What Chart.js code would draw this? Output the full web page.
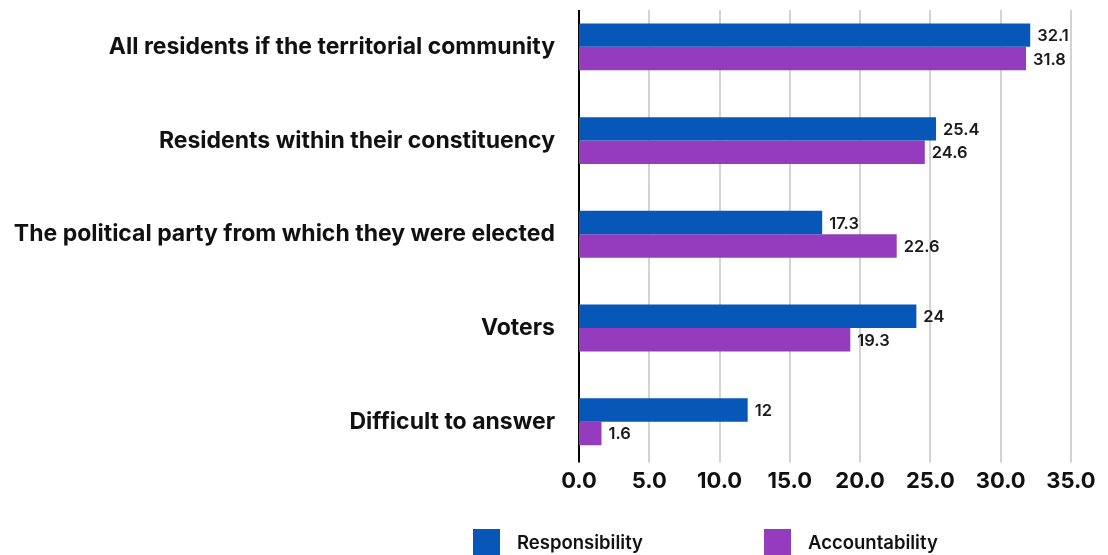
<!DOCTYPE html>
<html>
<head>
<meta charset="utf-8">
<script src="https://cdn.jsdelivr.net/npm/chart.js@4.4.1/dist/chart.umd.min.js"></script>
<style>
  html, body { margin: 0; padding: 0; background: #fff; }
  #wrap { width: 1108px; height: 555px; position: relative; }
</style>
</head>
<body>
<div id="wrap"><canvas id="chart"></canvas></div>
<script>
// Datos del gráfico
const categories = [
    'All residents if the territorial community',
    'Residents within their constituency',
    'The political party from which they were elected',
    'Voters',
    'Difficult to answer'
];
const responsibility = [32.1, 25.4, 17.3, 24, 12];
const accountability = [31.8, 24.6, 22.6, 19.3, 1.6];
const seriesNames = ['Responsibility', 'Accountability'];
const seriesColors = ['#0757b8', '#943cbd'];
const xMin = 0, xMax = 35, xStep = 5;

const FONT = 'Inter, "Noto Sans", sans-serif';

// Líneas de la cuadrícula y eje vertical en 0
const gridLines = {
    id: 'gridLines',
    beforeDatasetsDraw(chart) {
        const { ctx, chartArea, scales: { x } } = chart;
        const top = chartArea.top + 10;
        const bottom = chartArea.bottom - 6;
        ctx.save();
        x.ticks.forEach(t => {
            const px = Math.round(x.getPixelForValue(t.value));
            ctx.beginPath();
            ctx.lineWidth = 2;
            ctx.strokeStyle = t.value === 0 ? '#000' : '#d3d3d3';
            ctx.moveTo(px, top);
            ctx.lineTo(px, bottom);
            ctx.stroke();
        });
        ctx.restore();
    }
};

// Valores al final de cada barra
const barValues = {
    id: 'barValues',
    afterDatasetsDraw(chart) {
        const { ctx } = chart;
        ctx.save();
        ctx.font = '600 16.5px ' + FONT;
        ctx.fillStyle = '#1a1a1a';
        ctx.textAlign = 'left';
        ctx.textBaseline = 'middle';
        chart.data.datasets.forEach((ds, i) => {
            chart.getDatasetMeta(i).data.forEach((bar, j) => {
                ctx.fillText(String(ds.data[j]), bar.x + 7, bar.y + 1);
            });
        });
        ctx.restore();
    }
};

// Leyenda inferior
const bottomLegend = {
    id: 'bottomLegend',
    afterDraw(chart) {
        const { ctx } = chart;
        const boxX = [473, 764];
        const boxY = 529;
        ctx.save();
        ctx.font = '600 18.5px ' + FONT;
        ctx.textAlign = 'left';
        ctx.textBaseline = 'middle';
        chart.data.datasets.forEach((ds, i) => {
            ctx.fillStyle = ds.backgroundColor;
            ctx.fillRect(boxX[i], boxY, 27, 26);
            ctx.fillStyle = '#111';
            ctx.fillText(ds.label, boxX[i] + 44, boxY + 14);
        });
        ctx.restore();
    }
};

const ctx = document.getElementById('chart').getContext('2d');
const chart = new Chart(ctx, {
    type: 'bar',
    data: {
        labels: categories,
        datasets: [
            {
                label: seriesNames[0],
                data: responsibility,
                backgroundColor: seriesColors[0],
                categoryPercentage: 0.5,
                barPercentage: 1.0
            },
            {
                label: seriesNames[1],
                data: accountability,
                backgroundColor: seriesColors[1],
                categoryPercentage: 0.5,
                barPercentage: 1.0
            }
        ]
    },
    options: {
        indexAxis: 'y',
        responsive: true,
        maintainAspectRatio: false,
        animation: false,
        layout: {
            padding: { top: 0, right: 37, bottom: 60, left: 0 }
        },
        plugins: {
            legend: { display: false },
            tooltip: { enabled: false }
        },
        scales: {
            x: {
                min: xMin,
                max: xMax,
                grid: { display: false, drawTicks: false },
                border: { display: false },
                ticks: {
                    stepSize: xStep,
                    padding: 0,
                    color: '#111',
                    font: { family: FONT, size: 22, weight: 'bold' },
                    callback: v => v.toFixed(1)
                }
            },
            y: {
                grid: { display: false, drawTicks: false },
                border: { display: false },
                ticks: {
                    padding: 24,
                    color: '#111',
                    font: { family: FONT, size: 23, weight: 'bold' }
                },
                afterFit(scale) {
                    scale.width = 579;
                    scale.paddingTop = 0;
                    scale.paddingBottom = 0;
                }
            }
        }
    },
    plugins: [gridLines, barValues, bottomLegend]
});
</script>
</body>
</html>
